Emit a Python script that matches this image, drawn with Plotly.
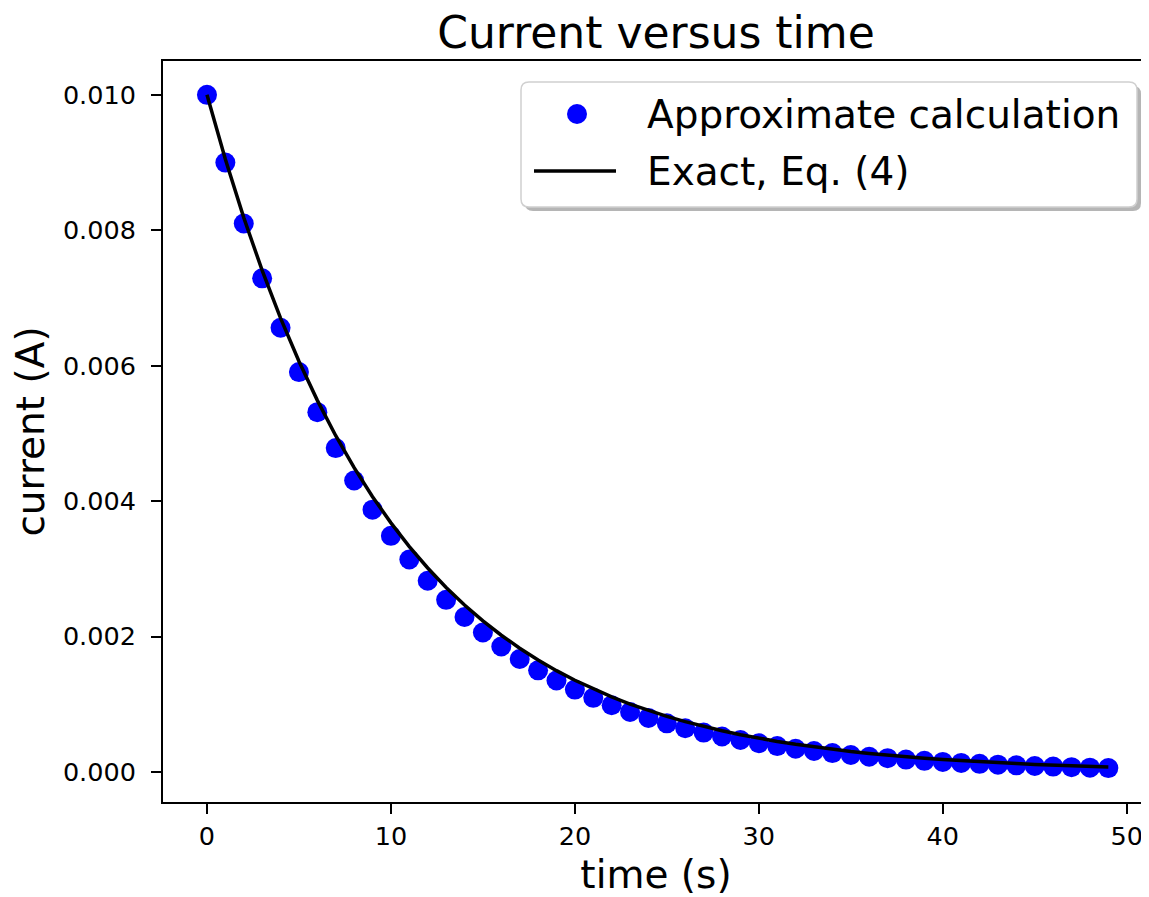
import plotly.graph_objects as go

# Approximate (step-by-step) calculation
time_s = list(range(50))
approx_current = [
    0.010000, 0.009000, 0.008100, 0.007290, 0.006561, 0.005905, 0.005314, 0.004783,
    0.004305, 0.003874, 0.003487, 0.003138, 0.002824, 0.002542, 0.002288, 0.002059,
    0.001853, 0.001668, 0.001501, 0.001351, 0.001216, 0.001094, 0.000985, 0.000886,
    0.000798, 0.000718, 0.000646, 0.000581, 0.000523, 0.000471, 0.000424, 0.000382,
    0.000343, 0.000309, 0.000278, 0.000250, 0.000225, 0.000203, 0.000182, 0.000164,
    0.000148, 0.000133, 0.000120, 0.000108, 0.0000970, 0.0000873, 0.0000786,
    0.0000707, 0.0000636, 0.0000573,
]
# Exact curve, Eq. (4)
exact_current = [
    0.0100000, 0.0090484, 0.0081873, 0.0074082, 0.0067032, 0.0060653, 0.0054881,
    0.0049659, 0.0044933, 0.0040657, 0.0036788, 0.0033287, 0.0030119, 0.0027253,
    0.0024660, 0.0022313, 0.0020190, 0.0018268, 0.0016530, 0.0014957, 0.0013534,
    0.0012246, 0.0011080, 0.0010026, 0.0009072, 0.0008209, 0.0007427, 0.0006721,
    0.0006081, 0.0005502, 0.0004979, 0.0004505, 0.0004076, 0.0003688, 0.0003337,
    0.0003020, 0.0002732, 0.0002472, 0.0002237, 0.0002024, 0.0001832, 0.0001657,
    0.0001500, 0.0001357, 0.0001228, 0.0001111, 0.0001005, 0.0000910, 0.0000823,
    0.0000745,
]
x_ticks = [0, 10, 20, 30, 40, 50]
y_ticks = [0.000, 0.002, 0.004, 0.006, 0.008, 0.010]
series_names = ["Approximate calculation", "Exact, Eq. (4)"]

FONT = "DejaVu Sans"
W, H = 1141, 889          # page body has an 8px margin
L, R, T, B = 155, 0, 53, 95
pw, ph = W - L - R, H - T - B


def px_x(p):
    return (p - L) / pw


def px_y(p):
    return 1 - (p - T) / ph


def rounded_rect(x0, y0, x1, y1, r):
    """Rounded rectangle path in paper coords from figure-pixel corners."""
    X = px_x
    Y = px_y
    return (f"M {X(x0 + r)},{Y(y0)} L {X(x1 - r)},{Y(y0)} Q {X(x1)},{Y(y0)} {X(x1)},{Y(y0 + r)} "
            f"L {X(x1)},{Y(y1 - r)} Q {X(x1)},{Y(y1)} {X(x1 - r)},{Y(y1)} "
            f"L {X(x0 + r)},{Y(y1)} Q {X(x0)},{Y(y1)} {X(x0)},{Y(y1 - r)} "
            f"L {X(x0)},{Y(y0 + r)} Q {X(x0)},{Y(y0)} {X(x0 + r)},{Y(y0)} Z")


fig = go.Figure()
fig.add_trace(go.Scatter(
    x=time_s, y=approx_current, mode="markers", name=series_names[0],
    marker=dict(color="#0000ff", size=20, line=dict(width=0)), showlegend=False,
))
fig.add_trace(go.Scatter(
    x=time_s, y=exact_current, mode="lines", name=series_names[1],
    line=dict(color="black", width=3.5), showlegend=False,
))

# ---- legend box (matplotlib style, with shadow) ----
bx0, by0, bx1, by1 = 513, 74, 1129, 199
fig.add_shape(type="path", xref="paper", yref="paper", layer="above",
              path=rounded_rect(bx0 + 4, by0 + 4, bx1 + 4, by1 + 4, 8),
              fillcolor="rgba(120,120,120,0.55)", line=dict(width=0))
fig.add_shape(type="path", xref="paper", yref="paper", layer="above",
              path=rounded_rect(bx0, by0, bx1, by1, 8),
              fillcolor="white", line=dict(color="#d0d0d0", width=1.5))
# swatches
fig.add_shape(type="circle", xref="paper", yref="paper", layer="above",
              x0=px_x(569 - 10), x1=px_x(569 + 10), y0=px_y(106 + 10), y1=px_y(106 - 10),
              fillcolor="#0000ff", line=dict(width=0))
fig.add_shape(type="line", xref="paper", yref="paper", layer="above",
              x0=px_x(526), x1=px_x(608), y0=px_y(163), y1=px_y(163),
              line=dict(color="black", width=3.5))
for name, yc in zip(series_names, [106, 163]):
    fig.add_annotation(text=name, xref="paper", yref="paper", x=px_x(637), y=px_y(yc),
                       xanchor="left", yanchor="middle", showarrow=False,
                       font=dict(family=FONT, size=39, color="black"))

axis_common = dict(
    showline=True, linecolor="black", linewidth=2, mirror=True,
    ticks="outside", ticklen=10, tickwidth=2, tickcolor="black",
    showgrid=False, zeroline=False, automargin=False,
    tickfont=dict(family=FONT, size=25.5, color="black"),
    title_font=dict(family=FONT, size=39, color="black"),
)
fig.update_layout(
    width=W, height=H, margin=dict(l=L, r=R, t=T, b=B),
    plot_bgcolor="white", paper_bgcolor="white",
    font=dict(family=FONT, color="black"),
    showlegend=False,
    title=dict(text="Current versus time", font=dict(family=FONT, size=44, color="black"),
               x=(L + (W - R)) / 2 / W, xanchor="center", y=1 - 25 / H, yanchor="middle",
               xref="container", yref="container"),
    xaxis=dict(range=[-2.39, 51.21], tickvals=x_ticks, ticktext=[str(v) for v in x_ticks],
               title=dict(text="time (s)", standoff=26), **axis_common),
    yaxis=dict(range=[-0.000444, 0.0105], tickvals=y_ticks,
               ticktext=[f"{v:.3f}" for v in y_ticks], ticklabelstandoff=10,
               title=dict(text="current (A)", standoff=16), **axis_common),
)
fig.write_html("out.html")
